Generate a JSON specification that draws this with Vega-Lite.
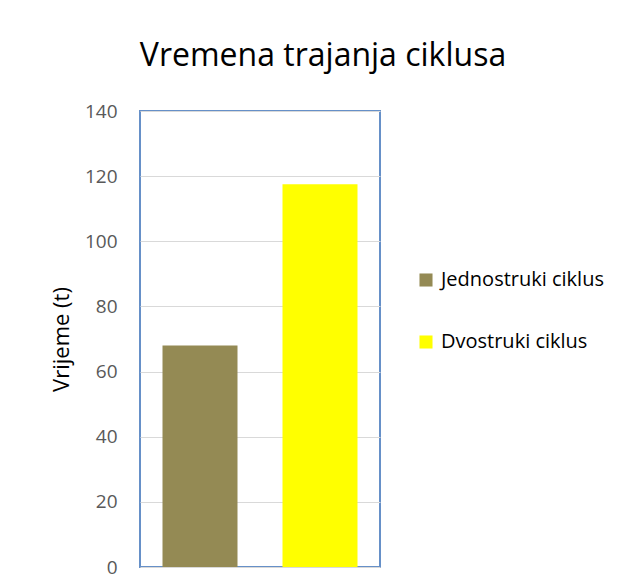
{
  "$schema": "https://vega.github.io/schema/vega-lite/v6.json",
  "autosize": "none",
  "width": 240,
  "height": 456,
  "padding": {"left": 140, "top": 111, "right": 245, "bottom": 20},
  "background": "white",
  "data": {"values": [
    {"serija": "Jednostruki ciklus", "vrijeme": 68},
    {"serija": "Dvostruki ciklus", "vrijeme": 117.5}
  ]},
  "title": {
    "text": "Vremena trajanja ciklusa",
    "font": "Open Sans",
    "fontSize": 32,
    "fontWeight": "normal",
    "color": "#000000",
    "anchor": "middle",
    "dx": 63,
    "offset": 29
  },
  "mark": {"type": "bar"},
  "encoding": {
    "x": {
      "field": "serija",
      "type": "nominal",
      "sort": ["Jednostruki ciklus", "Dvostruki ciklus"],
      "scale": {"paddingInner": 0.375, "paddingOuter": 0.1875},
      "axis": null
    },
    "y": {
      "field": "vrijeme",
      "type": "quantitative",
      "scale": {"domain": [0, 140], "nice": false},
      "axis": {
        "title": "Vrijeme (t)",
        "values": [0, 20, 40, 60, 80, 100, 120, 140],
        "domain": false,
        "ticks": false,
        "labelPadding": 23,
        "labelFont": "Open Sans",
        "labelFontSize": 19,
        "labelColor": "#595959",
        "titleFont": "Open Sans",
        "titleFontSize": 22,
        "titleFontWeight": "normal",
        "titleColor": "#000000",
        "titlePadding": 11,
        "gridColor": "#d9d9d9",
        "gridWidth": 1.2
      }
    },
    "color": {
      "field": "serija",
      "type": "nominal",
      "sort": ["Jednostruki ciklus", "Dvostruki ciklus"],
      "scale": {"domain": ["Jednostruki ciklus", "Dvostruki ciklus"], "range": ["#948A54", "#FFFF00"]},
      "legend": {
        "title": null,
        "orient": "none",
        "legendX": 276,
        "legendY": 159,
        "symbolType": "square",
        "symbolSize": 170,
        "symbolStrokeWidth": 0,
        "labelFont": "Open Sans",
        "labelFontSize": 20,
        "labelColor": "#000000",
        "labelOffset": 5,
        "labelLimit": 400,
        "rowPadding": 42
      }
    }
  },
  "config": {
    "view": {"stroke": "#6690C8", "strokeWidth": 2}
  }
}
